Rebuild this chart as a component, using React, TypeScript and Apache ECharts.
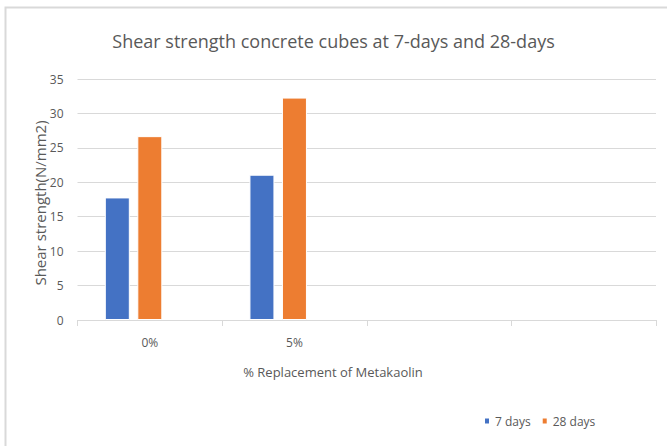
import React, { useEffect, useRef } from "react";
import * as echarts from "echarts";

const categories = ["0%", "5%", "", ""];
const days7 = [17.8, 21.1, null, null];
const days28 = [26.7, 32.3, null, null];
const hiddenSeries = [null, null, null, null];
const titleText = "Shear strength concrete cubes at 7-days and 28-days";
const yAxisName = "Shear strength(N/mm2)";
const xAxisName = "% Replacement of Metakaolin";

const FONT = "'Open Sans', 'Noto Sans', sans-serif";
const GRAY = "#595959";

export default function App() {
  const ref = useRef<HTMLDivElement>(null);
  useEffect(() => {
    if (!ref.current) return;
    const chart = echarts.init(ref.current, undefined, { renderer: "svg" });
    chart.setOption({
      animation: false,
      backgroundColor: "#ffffff",
      textStyle: { fontFamily: FONT },
      title: {
        text: titleText,
        left: "center",
        top: 27,
        textStyle: { fontFamily: FONT, fontSize: 18, fontWeight: "normal", color: GRAY },
      },
      graphic: [
        {
          type: "rect",
          shape: { x: 5.5, y: 7.5, width: 700, height: 500 },
          style: { fill: "none", stroke: "#D9D9D9", lineWidth: 2 },
          silent: true,
        },
        {
          type: "text",
          x: 333,
          y: 372,
          style: {
            text: xAxisName,
            fontFamily: FONT,
            fontSize: 13,
            fill: GRAY,
            textAlign: "center",
            textVerticalAlign: "middle",
          },
        },
        {
          type: "text",
          x: 40,
          y: 203,
          rotation: Math.PI / 2,
          style: {
            text: yAxisName,
            fontFamily: FONT,
            fontSize: 15,
            fill: GRAY,
            textAlign: "center",
            textVerticalAlign: "middle",
          },
        },
      ],
      legend: {
        data: ["7 days", "28 days"],
        left: 478,
        top: 410,
        icon: "rect",
        itemWidth: 6,
        itemHeight: 7,
        itemGap: 10,
        textStyle: { fontFamily: FONT, fontSize: 12, color: GRAY },
      },
      grid: { left: 77.5, right: 11, top: 79, bottom: 126, containLabel: false },
      xAxis: {
        type: "category",
        data: categories,
        axisLine: { lineStyle: { color: "#D9D9D9", width: 1 } },
        axisTick: { show: true, length: 6, lineStyle: { color: "#D9D9D9" } },
        axisLabel: { color: GRAY, fontSize: 12, margin: 16, fontFamily: FONT },
      },
      yAxis: {
        type: "value",
        min: 0,
        max: 35,
        interval: 5,
        axisLine: { show: false },
        axisTick: { show: false },
        axisLabel: { color: GRAY, fontSize: 12, margin: 14, fontFamily: FONT },
        splitLine: { lineStyle: { color: "#D9D9D9", width: 1 } },
      },
      series: [
        {
          name: "7 days",
          type: "bar",
          data: days7,
          barWidth: 25,
          barGap: "30%",
          itemStyle: { color: "#4472C4", borderColor: "#ffffff", borderWidth: 1 },
        },
        {
          name: "28 days",
          type: "bar",
          data: days28,
          barWidth: 25,
          barGap: "30%",
          itemStyle: { color: "#ED7D31", borderColor: "#ffffff", borderWidth: 1 },
        },
        {
          name: "hidden",
          type: "bar",
          data: hiddenSeries,
          barWidth: 25,
          barGap: "30%",
          itemStyle: { color: "#A5A5A5" },
        },
      ],
    });
    return () => chart.dispose();
  }, []);
  return (
    <div
      ref={ref}
      style={{ position: "fixed", left: 0, top: 0, width: 667, height: 446 }}
    />
  );
}
